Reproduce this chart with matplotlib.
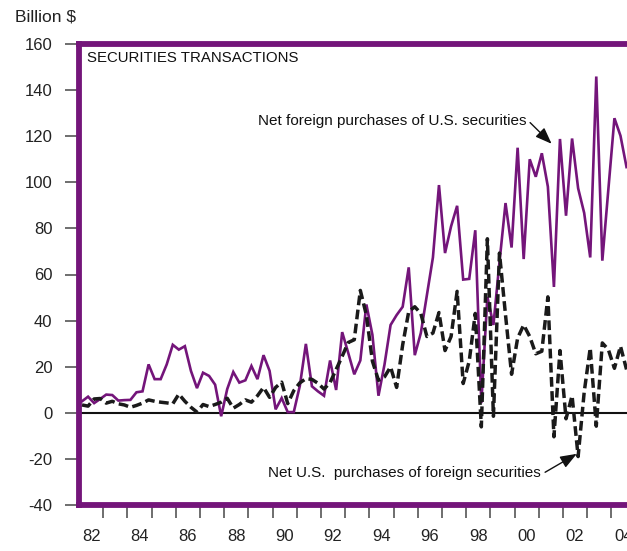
import matplotlib
matplotlib.use("Agg")
import matplotlib.pyplot as plt
import numpy as np

plt.rcParams['font.family'] = ['Liberation Sans', 'DejaVu Sans']
plt.rcParams['lines.scale_dashes'] = False

# Quarterly data, 1982Q1 .. 2004Q3 (billion $)
start_year = 1982
foreign_purchases_us = [
    5.0, 7.0, 4.2, 6.0, 7.9, 7.7, 5.3, 5.5, 5.6, 8.9,
    9.3, 21.0, 14.6, 14.6, 21.0, 29.5, 27.4, 28.9, 18.2, 10.7,
    17.4, 16.0, 12.2, -1.5, 10.3, 17.7, 13.1, 14.1, 20.3, 14.6,
    25.0, 18.2, 1.5, 6.4, 0.3, 0.3, 11.7, 29.9, 11.5, 9.3,
    7.4, 22.7, 9.9, 35.0, 26.0, 16.7, 22.7, 47.0, 33.8, 7.4,
    21.0, 38.1, 42.4, 46.0, 63.1, 25.0, 34.6, 51.0, 67.4, 98.8,
    69.3, 80.9, 89.8, 57.8, 58.1, 79.2, 4.2, 50.3, 38.1, 65.3,
    91.0, 71.7, 115.0, 66.7, 110.0, 102.4, 112.6, 98.1, 54.6, 118.8,
    85.5, 119.0, 97.4, 86.7, 67.4, 145.9, 66.0, 97.0, 127.8, 120.2,
    106.6,
]
us_purchases_foreign = [
    3.4, 2.9, 6.0, 6.2, 4.2, 5.0, 3.9, 3.4, 2.4, 3.2,
    4.2, 5.6, 5.0, 4.6, 4.3, 3.9, 8.1, 5.0, 2.4, 0.3,
    3.6, 2.7, 3.6, 4.6, 6.3, 2.0, 3.6, 5.6, 4.6, 7.4,
    11.0, 6.7, 11.0, 13.3, 4.0, 9.6, 13.0, 14.8, 14.5, 12.8,
    10.3, 13.1, 18.8, 24.5, 30.5, 31.7, 53.1, 42.4, 22.4, 14.1,
    15.6, 19.9, 11.0, 29.5, 43.9, 46.0, 43.1, 33.1, 34.6, 43.5,
    27.0, 33.1, 52.7, 12.7, 22.4, 43.1, -6.1, 75.5, -1.5, 69.3,
    42.4, 16.7, 32.4, 38.1, 33.1, 25.6, 26.7, 50.3, -10.4, 27.0,
    -2.6, 7.4, -19.0, 8.9, 28.1, -5.8, 30.3, 27.4, 19.3, 28.9,
    18.8,
]
year_labels = ['82', '84', '86', '88', '90', '92', '94', '96', '98', '00', '02', '04']
y_ticks = [-40, -20, 0, 20, 40, 60, 80, 100, 120, 140, 160]

t = start_year + (np.arange(len(foreign_purchases_us)) + 0.5) / 4.0

purple = '#74157a'
W, H = 627, 551
fig = plt.figure(figsize=(W / 100, H / 100), dpi=100)
ax = fig.add_axes([79 / W, 1 - 505 / H, (635.6 - 79) / W, (505 - 44) / H])

ax.axhline(0, color='#111111', lw=1.5, zorder=1)
ax.plot(t, foreign_purchases_us, color=purple, lw=1.9, zorder=2,
        solid_joinstyle='miter')
ax.plot(t, us_purchases_foreign, color='#1a1a1a', lw=2.5, zorder=3,
        dashes=(7.0, 3.2))

ax.set_xlim(1982, 2005)
ax.set_ylim(-40, 160)

for s in ['left', 'top', 'bottom']:
    ax.spines[s].set_color(purple)
    ax.spines[s].set_linewidth(4.2)
ax.spines['right'].set_visible(False)

ax.set_yticks(y_ticks)
ax.set_yticklabels([str(v) for v in y_ticks])
ax.tick_params(axis='y', direction='out', length=10, width=1.2,
               color='#555555', labelsize=12, pad=9, labelcolor='#222222')

ax.set_xticks(np.arange(1983, 2005))
ax.set_xticklabels([])
ax.tick_params(axis='x', which='major', direction='out', length=9.5,
               width=1.2, color='#555555')
ax.set_xticks([1982.5 + 2 * k for k in range(len(year_labels))], minor=True)
ax.set_xticklabels(year_labels, minor=True)
ax.tick_params(axis='x', which='minor', length=0, labelsize=12, pad=17,
               labelcolor='#222222')

ax.text(0.0144, 0.9696, 'SECURITIES TRANSACTIONS', transform=ax.transAxes,
        fontsize=10.8, ha='left', va='center', color='#111111')

fig.text(15 / W, 1 - 17 / H, 'Billion $', fontsize=12.5, ha='left',
         va='center', color='#222222')

arrowprops = dict(arrowstyle='-|>,head_length=1.0,head_width=0.38',
                  color='#111111', lw=1.0, shrinkA=0, shrinkB=0)
ax.annotate('', xy=(2001.53, 116.7), xytext=(2000.64, 125.9),
            arrowprops=arrowprops)
ax.text(2000.5, 126.5, 'Net foreign purchases of U.S. securities',
        fontsize=11, ha='right', va='center', color='#111111')

ax.annotate('', xy=(2002.57, -17.8), xytext=(2001.26, -25.8),
            arrowprops=arrowprops)
ax.text(2001.08, -26.3, 'Net U.S.  purchases of foreign securities',
        fontsize=11, ha='right', va='center', color='#111111')

fig.savefig('out.png', dpi=100)
